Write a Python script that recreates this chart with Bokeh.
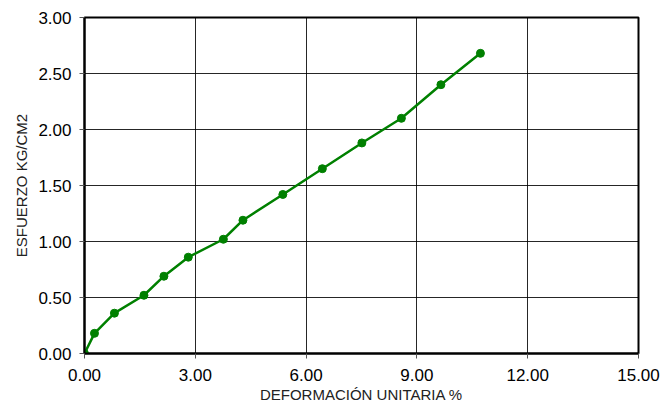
from bokeh.plotting import figure
from bokeh.models import ColumnDataSource, Range1d, FixedTicker, NumeralTickFormatter
from bokeh.embed import file_html
from bokeh.resources import INLINE

# Data
deformacion = [0.0, 0.27, 0.81, 1.61, 2.15, 2.81, 3.76, 4.29, 5.37, 6.44, 7.51, 8.58, 9.65, 10.72]
esfuerzo = [0.0, 0.18, 0.36, 0.52, 0.69, 0.86, 1.02, 1.19, 1.42, 1.65, 1.88, 2.10, 2.40, 2.68]
x_ticks = [0, 3, 6, 9, 12, 15]
y_ticks = [0, 0.5, 1.0, 1.5, 2.0, 2.5, 3.0]

FONT = "Liberation Sans"
GREEN = "#008000"

src = ColumnDataSource(data=dict(x=deformacion, y=esfuerzo))

p = figure(width=660, height=408, output_backend="svg", toolbar_location=None,
           x_range=Range1d(0, 15), y_range=Range1d(0, 3),
           frame_width=554, frame_height=336,
           min_border_left=84, min_border_top=17, min_border_right=22, min_border_bottom=55)

p.line("x", "y", source=src, line_color=GREEN, line_width=2.5)
p.scatter("x", "y", source=src, size=8, fill_color=GREEN, line_color=GREEN)

p.outline_line_color = "black"
p.outline_line_width = 2
p.background_fill_color = "white"
p.border_fill_color = "white"

p.xaxis.ticker = FixedTicker(ticks=x_ticks)
p.yaxis.ticker = FixedTicker(ticks=y_ticks)
p.xaxis.formatter = NumeralTickFormatter(format="0.00")
p.yaxis.formatter = NumeralTickFormatter(format="0.00")

for ax in (p.xaxis[0], p.yaxis[0]):
    ax.axis_line_color = "black"
    ax.axis_line_width = 2
    ax.major_tick_line_color = "#555555"
    ax.major_tick_out = 5
    ax.major_tick_in = 0
    ax.minor_tick_line_color = None
    ax.major_label_text_font = FONT
    ax.major_label_text_font_size = "17px"
    ax.major_label_text_color = "black"
    ax.axis_label_text_font = FONT
    ax.axis_label_text_font_size = "15px"
    ax.axis_label_text_font_style = "normal"
    ax.axis_label_text_color = "#222222"

p.xaxis.axis_label = "DEFORMACIÓN UNITARIA %"
p.yaxis.axis_label = "ESFUERZO KG/CM2"
p.xaxis.major_label_standoff = 10
p.yaxis.major_label_standoff = 8
p.xaxis.axis_label_standoff = 2
p.yaxis.axis_label_standoff = 5

p.xgrid.grid_line_color = "black"
p.ygrid.grid_line_color = "black"
p.xgrid.grid_line_width = 1
p.ygrid.grid_line_width = 1
p.xgrid.grid_line_alpha = 0.85
p.ygrid.grid_line_alpha = 0.85

open("out.html", "w").write(file_html(p, INLINE))
